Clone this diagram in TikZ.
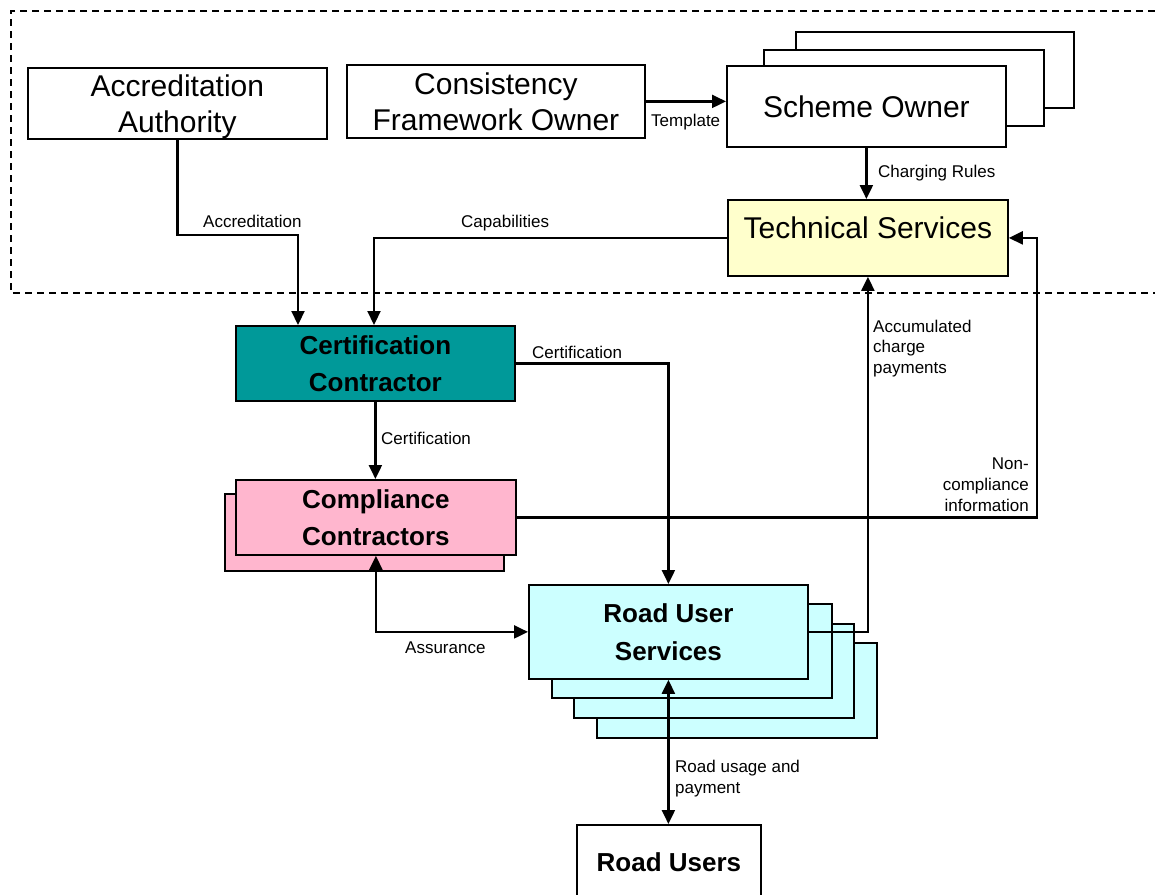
\documentclass[tikz,border=0pt]{standalone}
\usepackage{fontspec}
\setmainfont{Liberation Sans}
\usetikzlibrary{arrows.meta,calc}

\definecolor{tsfill}{RGB}{255,255,204}
\definecolor{ccfill}{RGB}{0,153,153}
\definecolor{compfill}{RGB}{255,182,206}
\definecolor{rusfill}{RGB}{204,255,255}

\newcommand\bigtxt{\fontsize{30}{35.5}\selectfont}
\newcommand\boldtxt{\fontsize{26}{37.5}\selectfont\bfseries}
\newcommand\lbltxt{\fontsize{17}{20.8}\selectfont}

\tikzset{
  box/.style={draw, line width=1.8pt, inner sep=0pt, align=center,
              anchor=north west, text depth=0pt},
  plain/.style={box, font=\bigtxt},
  strong/.style={box, font=\boldtxt},
  tip/.tip={Triangle[length=14pt,width=13pt]},
  conn/.style={line width=2.2pt, -tip},
  twoway/.style={line width=2.2pt, tip-tip},
  lbl/.style={inner sep=0pt, font=\lbltxt},
  frame/.style={line width=1.3pt, dash pattern=on 7pt off 5pt}
}

\begin{document}
\begin{tikzpicture}[x=1pt,y=-1pt]
\useasboundingbox (0,0) rectangle (1155,894);

% system boundary (open to the right)
\draw[frame] (1155,11) -- (11,11) -- (11,293) -- (1155,293);

% top row
\node[plain, minimum width=299pt, minimum height=71pt] (aa) at (27,67)
  {Accreditation\\Authority};
\node[plain, minimum width=298pt, minimum height=73pt] (cfo) at (346,64)
  {Consistency\\Framework Owner};

% scheme owners stack
\node[box, fill=white, minimum width=278pt, minimum height=76pt] (so3) at (795,31) {};
\node[box, fill=white, minimum width=280pt, minimum height=76pt] (so2) at (763,49) {};
\node[plain, fill=white, minimum width=279pt, minimum height=81pt] (so) at (726,65)
  {Scheme Owner};

\node[plain, fill=tsfill, minimum width=280pt, minimum height=76pt, text depth=20pt]
  (ts) at (727,199) {Technical Services};

% contractors
\node[strong, fill=ccfill, minimum width=279pt, minimum height=75pt] (cc) at (235,325)
  {Certification\\Contractor};
\node[box, fill=compfill, minimum width=279pt, minimum height=77pt] (comp2) at (224,493) {};
\node[strong, fill=compfill, minimum width=280pt, minimum height=75pt] (comp) at (235,479)
  {Compliance\\Contractors};

% road user services stack
\node[box, fill=rusfill, minimum width=280pt, minimum height=95pt] (rus4) at (596,642) {};
\node[box, fill=rusfill, minimum width=280pt, minimum height=94pt] (rus3) at (573,623) {};
\node[box, fill=rusfill, minimum width=280pt, minimum height=94pt] (rus2) at (551,603) {};
\node[strong, fill=rusfill, minimum width=279pt, minimum height=94pt] (rus) at (528,584)
  {Road User\\Services};

\node[strong, minimum width=184pt, minimum height=74pt] (ru) at (576,824) {Road Users};

% connectors
\draw[conn] (cfo.east) -- (cfo.east -| so.west);
\draw[conn] (so.south) -- (so.south |- ts.north);
\coordinate (ccA) at ($(cc.north west)+(63,0)$);
\coordinate (ccB) at ($(cc.north west)+(139,0)$);
\draw[conn] (aa.south) -- ++(0,95) -| (ccA);
\draw[conn] (ts.west) -| (ccB);
\draw[conn] (cc.east) -| (rus.north);
\draw[conn] (cc.south) -- (cc.south |- comp.north);
\draw[conn] (comp.east) -- ++(520,0) |- (ts.east);
\draw[conn] (rus.east) -| (ts.south);
\draw[twoway] (comp.south) |- (rus.west);
\draw[twoway] (rus.south) -- (rus.south |- ru.north);

% connector labels
\node[lbl, anchor=base west] (lTemplate) at (651,126) {Template};
\node[lbl, anchor=base west] (lRules) at (878,177) {Charging Rules};
\node[lbl, anchor=base west] (lAccr) at (203,227) {Accreditation};
\node[lbl, anchor=base west] (lCap) at (461,227) {Capabilities};
\node[lbl, anchor=base west] (lCert1) at (532,358) {Certification};
\node[lbl, anchor=base west] (lCert2) at (381,444) {Certification};
\node[lbl, align=right, anchor=north east] (lNon) at (1029,457.8)
  {Non-\\compliance\\information};
\node[lbl, align=left, anchor=north west] (lAcc) at (873,319.5)
  {Accumulated\\charge\\payments};
\node[lbl, anchor=base west] (lAssur) at (405,653) {Assurance};
\node[lbl, align=left, anchor=north west] (lUse) at (675,759.8)
  {Road usage and\\payment};
\end{tikzpicture}
\end{document}
